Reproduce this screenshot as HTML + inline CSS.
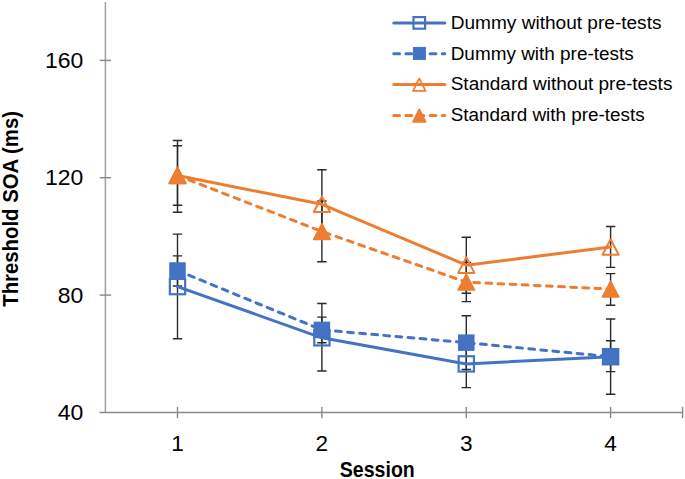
<!DOCTYPE html>
<html><head><meta charset="utf-8"><style>
html,body{margin:0;padding:0;background:#fff;}
body{width:685px;height:479px;overflow:hidden;}
svg{display:block;}
text{font-family:"Liberation Sans",sans-serif;fill:#000;}
</style></head><body>
<svg width="685" height="479" viewBox="0 0 685 479">
<rect width="685" height="479" fill="#fff"/>
<line x1="105.4" y1="2" x2="105.4" y2="412.4" stroke="#a0a0a0" stroke-width="1.5"/>
<g stroke="#888888" stroke-width="1.4" fill="none">
<line x1="99.6" y1="412.5" x2="682.8" y2="412.5"/>
<line x1="99.7" y1="60.40" x2="111.1" y2="60.40"/>
<line x1="99.7" y1="177.70" x2="111.1" y2="177.70"/>
<line x1="99.7" y1="295.10" x2="111.1" y2="295.10"/>
<line x1="177.50" y1="406.9" x2="177.50" y2="418.2"/>
<line x1="321.90" y1="406.9" x2="321.90" y2="418.2"/>
<line x1="466.30" y1="406.9" x2="466.30" y2="418.2"/>
<line x1="610.60" y1="406.9" x2="610.60" y2="418.2"/>
<line x1="682.60" y1="406.9" x2="682.60" y2="418.2"/>
</g>
<g stroke="#2a2a2a" stroke-width="1.40" fill="none">
<path d="M177.50 234.10V338.70M172.80 234.10H182.20M172.80 338.70H182.20"/>
<path d="M321.90 303.50V371.00M317.20 303.50H326.60M317.20 371.00H326.60"/>
<path d="M466.30 340.20V387.60M461.60 340.20H471.00M461.60 387.60H471.00"/>
<path d="M610.60 319.00V394.30M605.90 319.00H615.30M605.90 394.30H615.30"/>
<path d="M177.50 255.90V286.00M172.80 255.90H182.20M172.80 286.00H182.20"/>
<path d="M321.90 317.10V342.70M317.20 317.10H326.60M317.20 342.70H326.60"/>
<path d="M466.30 315.80V369.50M461.60 315.80H471.00M461.60 369.50H471.00"/>
<path d="M610.60 340.70V371.60M605.90 340.70H615.30M605.90 371.60H615.30"/>
<path d="M177.50 140.45V212.30M172.80 140.45H182.20M172.80 212.30H182.20"/>
<path d="M321.90 169.75V238.85M317.20 169.75H326.60M317.20 238.85H326.60"/>
<path d="M466.30 237.30V293.20M461.60 237.30H471.00M461.60 293.20H471.00"/>
<path d="M610.60 226.50V267.40M605.90 226.50H615.30M605.90 267.40H615.30"/>
<path d="M177.50 145.70V205.20M172.80 145.70H182.20M172.80 205.20H182.20"/>
<path d="M321.90 201.00V261.70M317.20 201.00H326.60M317.20 261.70H326.60"/>
<path d="M466.30 262.40V301.60M461.60 262.40H471.00M461.60 301.60H471.00"/>
<path d="M610.60 273.60V305.20M605.90 273.60H615.30M605.90 305.20H615.30"/>
</g>
<g fill="none" stroke-width="3.00" stroke-linecap="round" stroke-linejoin="round">
<polyline points="177.50,286.60 321.90,337.80 466.30,363.90 610.60,356.70" stroke="#4472C4"/>
<polyline points="177.50,270.50 321.90,329.90 466.30,342.65 610.60,356.70" stroke="#4472C4" stroke-dasharray="5.8 6.33"/>
<polyline points="177.50,175.50 321.90,204.30 466.30,265.15 610.60,246.95" stroke="#ED7D31"/>
<polyline points="177.50,175.50 321.90,231.50 466.30,282.10 610.60,289.10" stroke="#ED7D31" stroke-dasharray="5.8 6.33"/>
</g>
<rect x="169.85" y="278.95" width="15.30" height="15.30" fill="none" stroke="#4472C4" stroke-width="2.20"/>
<rect x="314.25" y="330.15" width="15.30" height="15.30" fill="none" stroke="#4472C4" stroke-width="2.20"/>
<rect x="458.65" y="356.25" width="15.30" height="15.30" fill="none" stroke="#4472C4" stroke-width="2.20"/>
<rect x="602.95" y="349.05" width="15.30" height="15.30" fill="none" stroke="#4472C4" stroke-width="2.20"/>
<rect x="170.00" y="263.00" width="15.00" height="15.00" fill="#4472C4" stroke="#4472C4" stroke-width="1.50"/>
<rect x="314.40" y="322.40" width="15.00" height="15.00" fill="#4472C4" stroke="#4472C4" stroke-width="1.50"/>
<rect x="458.80" y="335.15" width="15.00" height="15.00" fill="#4472C4" stroke="#4472C4" stroke-width="1.50"/>
<rect x="603.10" y="349.20" width="15.00" height="15.00" fill="#4472C4" stroke="#4472C4" stroke-width="1.50"/>
<polygon points="177.50,167.75 185.60,183.25 169.40,183.25" fill="none" stroke="#ED7D31" stroke-width="2.00" stroke-linejoin="round"/>
<polygon points="321.90,196.55 330.00,212.05 313.80,212.05" fill="none" stroke="#ED7D31" stroke-width="2.00" stroke-linejoin="round"/>
<polygon points="466.30,257.40 474.40,272.90 458.20,272.90" fill="none" stroke="#ED7D31" stroke-width="2.00" stroke-linejoin="round"/>
<polygon points="610.60,239.20 618.70,254.70 602.50,254.70" fill="none" stroke="#ED7D31" stroke-width="2.00" stroke-linejoin="round"/>
<polygon points="177.50,167.55 185.80,183.45 169.20,183.45" fill="#ED7D31" stroke="#ED7D31" stroke-width="1.50" stroke-linejoin="round"/>
<polygon points="321.90,223.55 330.20,239.45 313.60,239.45" fill="#ED7D31" stroke="#ED7D31" stroke-width="1.50" stroke-linejoin="round"/>
<polygon points="466.30,274.15 474.60,290.05 458.00,290.05" fill="#ED7D31" stroke="#ED7D31" stroke-width="1.50" stroke-linejoin="round"/>
<polygon points="610.60,281.15 618.90,297.05 602.30,297.05" fill="#ED7D31" stroke="#ED7D31" stroke-width="1.50" stroke-linejoin="round"/>
<g font-size="22.5">
<text x="83.3" y="67.90" text-anchor="end" textLength="38.3" lengthAdjust="spacingAndGlyphs">160</text>
<text x="83.3" y="185.10" text-anchor="end" textLength="38.3" lengthAdjust="spacingAndGlyphs">120</text>
<text x="83.3" y="302.60" text-anchor="end" textLength="25.6" lengthAdjust="spacingAndGlyphs">80</text>
<text x="83.3" y="419.90" text-anchor="end" textLength="25.6" lengthAdjust="spacingAndGlyphs">40</text>
</g>
<g font-size="22.6">
<text x="177.50" y="451.4" text-anchor="middle">1</text>
<text x="321.90" y="451.4" text-anchor="middle">2</text>
<text x="466.30" y="451.4" text-anchor="middle">3</text>
<text x="610.60" y="451.4" text-anchor="middle">4</text>
</g>
<text x="377.3" y="476.6" font-size="22.5" font-weight="bold" text-anchor="middle" textLength="75" lengthAdjust="spacingAndGlyphs">Session</text>
<text transform="translate(18.3,208.9) rotate(-90)" x="0" y="0" font-size="22.5" font-weight="bold" text-anchor="middle" textLength="195.8" lengthAdjust="spacingAndGlyphs">Threshold SOA (ms)</text>
<line x1="393.75" y1="22.90" x2="444.80" y2="22.90" stroke="#4472C4" stroke-width="3.00" stroke-linecap="round"/>
<rect x="413.50" y="17.10" width="11.6" height="11.6" fill="none" stroke="#4472C4" stroke-width="2.2"/>
<text x="450.7" y="28.65" font-size="18.3" textLength="210.8" lengthAdjust="spacingAndGlyphs">Dummy without pre-tests</text>
<line x1="393.75" y1="53.70" x2="444.80" y2="53.70" stroke="#4472C4" stroke-width="3.00" stroke-linecap="round" stroke-dasharray="5.8 6.33"/>
<rect x="413.40" y="47.40" width="12" height="12" fill="#4472C4" stroke="#4472C4" stroke-width="1"/>
<text x="450.7" y="59.60" font-size="18.3" textLength="183.0" lengthAdjust="spacingAndGlyphs">Dummy with pre-tests</text>
<line x1="393.75" y1="84.50" x2="444.80" y2="84.50" stroke="#ED7D31" stroke-width="3.00" stroke-linecap="round"/>
<polygon points="419.30,78.45 425.55,90.95 413.05,90.95" fill="none" stroke="#ED7D31" stroke-width="1.80" stroke-linejoin="round"/>
<text x="450.7" y="90.35" font-size="18.3" textLength="221.7" lengthAdjust="spacingAndGlyphs">Standard without pre-tests</text>
<line x1="393.75" y1="115.40" x2="444.80" y2="115.40" stroke="#ED7D31" stroke-width="3.00" stroke-linecap="round" stroke-dasharray="5.8 6.33"/>
<polygon points="419.30,109.35 425.55,121.85 413.05,121.85" fill="#ED7D31" stroke="#ED7D31" stroke-width="1.80" stroke-linejoin="round"/>
<text x="450.7" y="121.10" font-size="18.3" textLength="194.0" lengthAdjust="spacingAndGlyphs">Standard with pre-tests</text>
</svg>
</body></html>
